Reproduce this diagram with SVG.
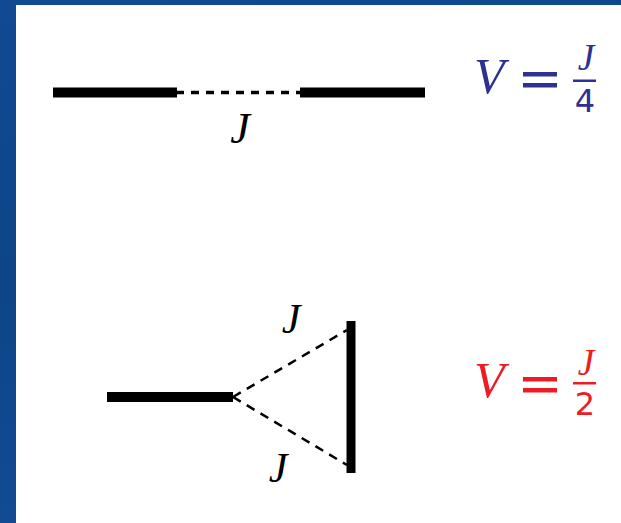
<svg xmlns="http://www.w3.org/2000/svg" width="621" height="523" viewBox="0 0 621 523">
<style>
.bar{stroke:#000;stroke-width:10;fill:none}
.dash{stroke:#000;stroke-width:3.5;stroke-dasharray:8 7;fill:none}
.dash2{stroke:#000;stroke-width:2.5;stroke-dasharray:9 7;fill:none}
.mi{font-family:"Liberation Serif",serif;font-style:italic;font-weight:normal}
.num{font-family:"DejaVu Sans","Liberation Sans",sans-serif}
</style>
<defs>
<linearGradient id="bg" x1="0" y1="0" x2="0.3" y2="1">
<stop offset="0" stop-color="#114a92"/>
<stop offset="0.5" stop-color="#0d4588"/>
<stop offset="1" stop-color="#124c94"/>
</linearGradient>
</defs>
<rect width="621" height="523" fill="url(#bg)"/>
<rect x="16" y="5" width="605" height="518" fill="#fff"/>

<g id="connectors">
<line class="dash" x1="176" y1="92.5" x2="300" y2="92.5"/>
<line class="dash2" x1="233" y1="397" x2="347" y2="330"/>
<line class="dash2" x1="233" y1="397" x2="347" y2="465"/>
</g>

<g id="bar-top-left"><line class="bar" x1="53" y1="92.5" x2="177" y2="92.5"/></g>
<g id="bar-top-right"><line class="bar" x1="300" y1="92.5" x2="425" y2="92.5"/></g>
<g id="label-top"><text class="mi" x="240" y="143" font-size="44" text-anchor="middle">J</text></g>

<g id="bar-bottom-left"><line class="bar" x1="107" y1="397" x2="233" y2="397"/></g>
<g id="bar-bottom-right"><line class="bar" x1="351" y1="321" x2="351" y2="473" style="stroke-width:9"/></g>
<g id="label-upper"><text class="mi" x="291" y="333" font-size="42" text-anchor="middle">J</text></g>
<g id="label-lower"><text class="mi" x="278" y="482" font-size="42" text-anchor="middle">J</text></g>

<g id="formula-top" fill="#2e3192">
<text class="mi" x="474" y="93" font-size="50">V</text>
<rect x="523" y="72" width="34" height="4.5"/>
<rect x="523" y="83" width="34" height="4.5"/>
<text class="mi" x="586" y="70" font-size="37" text-anchor="middle">J</text>
<rect x="573" y="79.5" width="23" height="2.5"/>
<text class="num" x="585" y="112" font-size="32" text-anchor="middle">4</text>
</g>

<g id="formula-bottom" fill="#ed1c24">
<text class="mi" x="474" y="397" font-size="50">V</text>
<rect x="523" y="377" width="34" height="4.5"/>
<rect x="523" y="388" width="34" height="4.5"/>
<text class="mi" x="586" y="375" font-size="37" text-anchor="middle">J</text>
<rect x="573" y="382" width="23" height="2.5"/>
<text class="num" x="585" y="415" font-size="32" text-anchor="middle">2</text>
</g>
</svg>
